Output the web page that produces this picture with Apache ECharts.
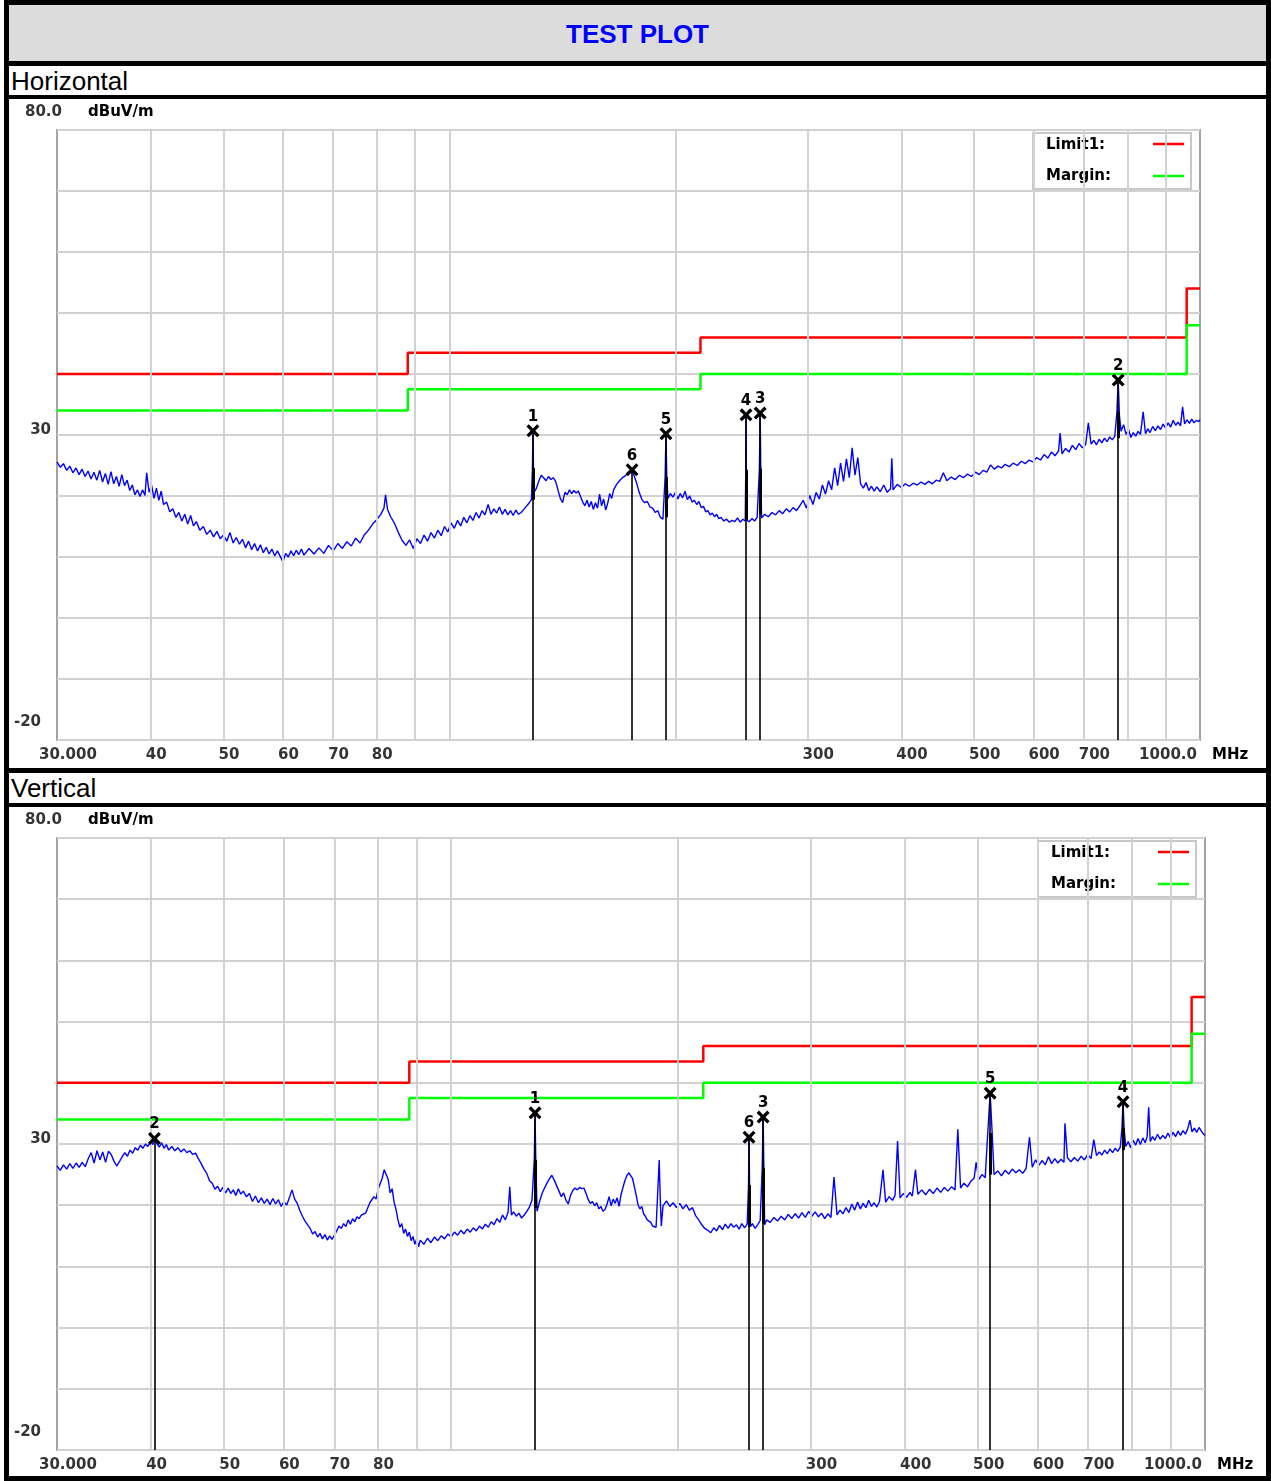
<!DOCTYPE html>
<html>
<head>
<meta charset="utf-8">
<title>TEST PLOT</title>
<script src="https://cdn.jsdelivr.net/npm/echarts/dist/echarts.min.js"></script>
<style>
body{margin:0;background:#fff;}
#page{position:relative;width:1271px;height:1481px;overflow:hidden;}
#frame{position:absolute;left:4px;top:0;width:1267px;height:1481px;background:#000;}
.cell{position:absolute;left:9px;width:1257px;background:#fff;font-family:Arial,"Liberation Sans",sans-serif;color:#000;}
#title{top:5px;height:56px;background:#dcdcdc;color:#0000ff;font-weight:bold;font-size:26px;line-height:58px;text-align:center;}
.pol{font-size:26px;line-height:31px;padding-left:2px;box-sizing:border-box;}
#chart{position:absolute;left:0;top:0;width:1271px;height:1481px;}
</style>
</head>
<body>
<div id="page">
  <div id="frame"></div>
  <div class="cell" id="title">TEST PLOT</div>
  <div class="cell pol" style="top:66px;height:29px;">Horizontal</div>
  <div class="cell" style="top:99px;height:669px;"></div>
  <div class="cell pol" style="top:773px;height:30px;">Vertical</div>
  <div class="cell" style="top:807px;height:669px;"></div>
  <div id="chart"></div>
</div>
<script>
// ---- horizontal scan (MHz / dBuV/m)
var hFreq = [30.0,30.3,30.6,30.9,31.2,31.5,31.8,32.1,32.4,32.7,33.0,33.3,33.6,33.9,34.2,34.5,34.8,35.1,35.4,35.7,
  36.0,36.3,36.6,36.9,37.2,37.5,37.8,38.1,38.4,38.7,39.0,39.3,39.5,39.8,40.1,40.4,40.7,41.0,41.3,41.6,
  42.0,42.4,42.8,43.2,43.6,44.0,44.4,44.8,45.2,45.6,46.0,46.5,47.0,47.5,48.0,48.5,49.0,49.5,50.0,50.5,
  51.0,51.5,52.0,52.5,53.0,53.5,54.0,54.5,55.0,55.5,56.0,56.5,57.0,57.5,58.0,58.5,59.0,59.5,60.0,60.5,
  61.0,61.5,62.0,62.5,63.0,63.5,64.0,65.0,66.0,67.0,68.0,69.0,70.0,71.0,72.0,73.0,74.0,75.0,76.0,77.0,
  78.0,79.0,80.0,81.0,81.8,82.2,82.7,83.5,84.5,85.5,86.5,87.5,88.5,89.5,90.5,91.5,92.5,93.5,94.5,95.5,
  96.5,97.5,98.5,99.5,100.5,101.5,102.5,103.5,104.5,105.5,106.5,107.5,108.5,109.5,110.5,111.5,112.6,113.6,114.6,115.6,
  116.6,117.6,118.6,119.6,120.6,121.6,122.6,123.6,124.6,125.6,126.6,127.6,128.6,128.9,129.0,129.2,129.4,129.5,130.5,131.5,
  132.5,133.5,134.5,135.5,136.5,137.5,138.5,139.5,140.5,141.5,142.5,143.5,144.5,145.5,146.5,147.5,148.5,149.5,150.5,151.5,
  152.5,153.5,154.5,155.5,156.5,157.5,158.5,159.5,160.5,161.5,162.5,163.5,164.5,165.5,167.0,168.5,170.0,171.5,173.0,174.3,
  175.1,176.0,177.5,179.0,180.5,182.0,183.5,185.0,186.5,188.0,189.5,191.0,192.5,193.8,194.3,194.8,195.5,197.0,198.5,200.0,
  201.5,203.0,204.5,206.0,207.5,209.0,210.5,212.0,213.5,215.0,216.5,218.0,219.5,221.0,222.5,224.0,225.5,227.0,228.5,230.0,
  232.0,234.0,236.0,238.0,240.0,242.0,244.0,246.0,247.8,248.2,248.4,248.6,249.0,251.0,253.0,255.0,257.0,258.8,259.4,259.9,
  260.5,263,266,269,272,275,278,281,284,287,290,293,296,299,302,305,308,311,314,317,
  320,323,326,329,332,335,338,341,344,347,350,353,356,359,362,365,368,371,375,379,
  383,387,388.5,390,395,400,405,410,415,420,425,430,435,440,445,450,455,460,466,472,
  478,484,490,496,502,508,514,520,526,532,538,544,550,557,564,571,578,585,592,599,
  606,613,620,627,634,641,648,651,655,662,669,676,683,690,697,704,710,716,722,728,
  734,740,746,752,758,764,770,775,778,781,785,791,797,803,809,815,821,827,833,840,
  846,852,858,865,872,879,886,893,900,907,914,921,928,935,942,948,954,961,968,975,
  982,989,996,1000];
var hLevel = [25.6,24.7,25.3,24.2,24.9,23.8,24.6,23.5,24.4,23.2,24.1,22.8,23.9,22.6,24.2,22.3,23.7,21.9,24.0,22.0,
  23.2,21.6,23.5,21.7,22.6,20.9,21.8,20.2,21.0,19.9,21.0,20.1,23.8,20.6,21.8,19.6,21.3,19.3,20.8,18.6,
  19.0,17.4,17.9,16.5,17.3,15.9,17.0,15.4,16.8,15.1,15.8,14.4,15.0,13.7,14.4,13.3,14.2,13.0,13.6,12.6,
  14.0,12.3,13.2,12.1,12.9,11.5,12.6,11.2,12.2,11.0,12.0,10.7,11.6,10.5,11.3,10.2,11.0,10.1,9.2,10.6,
  10.0,11.0,10.2,11.1,10.4,11.3,10.3,11.4,10.5,11.5,10.6,11.9,11.0,12.2,11.4,12.5,11.8,13.1,12.3,13.6,
  14.4,15.4,16.1,17.0,18.0,20.2,17.8,16.6,15.5,14.0,12.7,11.9,12.8,11.4,13.0,12.2,13.6,12.6,14.0,13.1,
  14.4,13.5,15.0,14.1,15.6,14.7,16.0,15.1,16.5,15.6,16.8,16.0,17.3,16.4,17.6,16.9,18.6,17.0,17.9,17.2,
  18.2,17.0,17.8,16.9,17.6,16.8,17.7,17.0,17.3,17.8,18.3,18.8,19.4,19.4,24.6,30.7,24.6,20.5,21.2,22.4,
  23.4,23.0,22.5,23.2,22.7,23.0,22.4,21.0,19.6,18.9,20.6,20.2,21.0,20.4,20.9,20.5,20.8,19.9,19.0,18.4,
  19.3,18.2,19.1,17.8,18.9,18.0,20.3,18.4,19.5,17.7,18.8,20.4,19.6,21.0,21.9,22.5,23.0,23.3,23.9,23.8,
  24.3,23.5,22.2,20.6,19.4,18.9,19.1,18.2,18.0,17.3,17.6,16.5,16.2,23.1,30.2,23.0,19.6,20.4,19.8,20.6,
  19.5,20.4,19.7,20.8,19.4,20.0,19.0,19.3,18.6,19.1,18.1,18.3,17.4,17.6,16.9,17.2,16.6,17.0,16.3,16.5,
  15.9,16.2,15.7,16.0,15.8,16.4,15.7,16.2,15.9,24.3,33.3,24.3,16.0,15.8,16.3,15.9,16.5,24.5,33.6,24.5,
  16.4,17.0,16.6,17.3,16.9,17.6,17.1,17.9,17.4,18.1,17.6,18.4,19.3,18.0,20.1,18.6,20.6,19.5,21.8,20.3,
  22.5,21.0,24.6,21.7,25.4,22.4,26.1,23.0,27.9,23.4,26.3,22.0,21.3,22.2,20.9,21.6,20.8,21.5,20.7,21.8,
  20.6,21.2,26.2,21.0,21.9,21.4,22.0,21.6,22.1,21.8,22.3,21.9,22.4,22.0,22.6,22.4,23.8,22.5,23.1,22.7,
  23.4,23.0,23.6,23.2,23.9,23.5,24.2,23.9,25.1,24.4,24.9,24.6,25.2,24.8,25.4,25.0,25.7,25.3,25.9,25.6,
  26.3,25.9,26.8,26.2,27.2,26.6,27.4,30.3,26.9,27.8,27.2,28.3,27.6,28.6,27.9,28.4,32.0,28.5,29.1,28.4,
  29.3,28.7,29.5,28.9,29.7,29.2,29.8,33.8,39.0,33.2,30.6,31.7,30.1,30.9,29.6,30.4,29.8,30.6,30.1,33.8,
  30.2,31.0,30.4,31.4,30.7,31.5,30.9,31.8,31.1,32.0,31.3,32.4,31.6,32.1,31.5,34.6,31.8,32.5,31.9,32.6,
  32.0,32.4,32.2,32.5];

// ---- vertical scan
var vFreq = [30.0,30.3,30.6,30.9,31.2,31.5,31.8,32.1,32.4,32.7,33.0,33.3,33.6,33.9,34.2,34.5,34.8,35.1,35.4,35.7,
  36.0,36.3,36.6,36.9,37.2,37.5,37.8,38.1,38.4,38.7,39.0,39.3,39.6,39.9,40.2,40.4,40.7,41.0,41.3,41.6,
  41.9,42.2,42.6,43.0,43.4,43.8,44.2,44.6,45.0,45.4,45.8,46.2,46.6,47.0,47.4,47.8,48.2,48.6,49.0,49.4,
  49.8,50.2,50.6,51.0,51.4,51.8,52.2,52.6,53.0,53.5,54.0,54.5,55.0,55.5,56.0,56.5,57.0,57.5,58.0,58.5,
  59.0,59.5,60.0,60.5,61.0,61.5,62.0,62.5,63.0,63.5,64.0,64.5,65.0,65.5,66.0,66.5,67.0,67.5,68.0,68.5,
  69.0,69.5,70.0,70.5,71.0,71.5,72.0,72.5,73.0,73.5,74.0,74.5,75.0,75.5,76.0,77.0,78.0,79.0,79.5,80.0,
  80.5,81.0,81.5,82.0,82.5,83.0,83.5,84.0,84.5,85.0,85.5,86.0,86.5,87.0,87.5,88.0,88.5,89.0,89.5,90.0,
  90.5,91,92,93,94,95,96,97,98,99,100,101,102,103,104,105,106,107,108,109,
  110,111,112,113,114,115,116,117,118,119,119.6,120.2,121,122,123,124,125,126,127,128,
  128.9,129.2,129.5,130,131,132,133,134,135,136,137,138,139,140,141,142,143,144,145,146,
  147,148,149,150,151,152,153,154,155,156,157,158,159,160,161,162,163,164,165,166,
  167,168,169,170,171,172,173,174,175,176,177,178,179,180,181,182,183,184,185,186,
  187,188,188.8,189.4,190,191,193,195,197,199,201,203,205,207,209,211,213,215,217,219,
  221,223,225,227,229,231,233,235,237,239,241,243,245,247,248.0,248.4,248.8,249.5,251,253,
  255,257,258.6,259.3,259.9,260.5,262,265,268,271,274,277,280,283,286,289,292,295,298,301,
  304,307,310,313,316,319,322,325,328,331,334,337,340,343,346,349,352,355,358,361,
  364,367,370,374,377,381,385,388,391,394,398,402,406,409,413,416,421,426,431,436,
  441,446,451,456,461,466,470,474,479,484,489,494,497,501,506,511,515,518.8,522,525,
  531,537,543,549,555,561,567,573,579,585,590,596,602,608,614,620,626,632,638,644,
  650,652,657,664,671,678,685,692,699,706,712,718,724,730,736,742,748,754,760,766,
  772,776,778.5,781,785,791,797,803,809,815,821,827,833,838,842,846,852,858,865,872,
  879,886,893,900,907,914,921,928,935,942,948,955,961,968,975,982,989,996,1000];
var vLevel = [26.4,25.7,26.6,25.9,26.8,26.0,26.9,26.2,27.0,26.3,27.6,28.6,26.9,28.9,27.4,28.7,27.0,28.8,28.3,27.2,
  26.4,27.1,27.9,28.6,28.0,29.0,28.5,29.4,29.0,29.8,29.3,30.0,29.6,30.3,29.9,30.9,30.1,29.5,30.2,29.3,
  29.9,29.0,29.6,28.9,29.4,28.7,29.2,28.6,28.9,28.3,28.5,27.6,26.8,25.9,25.2,24.0,23.6,22.6,23.1,22.2,
  22.9,22.0,22.8,21.9,22.5,21.6,22.7,21.8,22.3,21.4,21.9,20.6,21.5,20.4,21.2,20.3,21.0,20.1,21.1,20.2,
  20.9,19.8,20.6,20.0,21.2,22.5,21.0,20.3,19.1,18.2,17.4,16.8,16.2,15.3,15.7,14.8,15.4,14.5,15.2,14.3,
  15.0,14.4,15.1,15.8,16.6,16.2,17.0,16.5,17.6,16.9,17.8,17.3,18.1,17.8,18.4,18.7,20.4,21.4,21.0,22.6,
  23.5,24.4,25.8,25.0,24.2,22.0,22.7,20.5,19.3,17.6,16.4,17.0,15.4,16.1,14.9,15.6,14.2,14.9,13.6,14.5,
  13.2,14.3,13.6,14.6,13.9,14.8,14.2,15.0,14.5,15.3,14.8,15.6,15.1,15.9,15.3,16.1,15.6,16.3,15.8,16.6,
  16.1,16.9,16.4,17.3,16.8,17.8,17.2,18.4,17.6,18.9,23.0,18.4,18.9,18.2,18.7,17.9,18.4,19.0,19.7,20.8,
  27.4,35.1,27.4,19.0,20.6,21.9,22.8,23.6,24.3,24.9,24.1,23.2,22.3,21.4,22.0,20.8,20.2,21.6,22.4,22.8,
  22.5,22.9,22.7,22.8,21.9,20.9,20.3,20.6,19.9,20.4,19.4,19.8,19.0,19.3,20.2,21.4,19.9,21.0,20.3,21.2,
  19.8,21.7,22.9,24.0,24.8,25.3,25.1,24.4,23.0,21.6,20.0,19.4,19.8,18.6,18.2,17.6,17.9,17.2,16.6,16.9,
  16.4,16.7,27.4,21.0,16.6,19.9,20.7,19.8,20.4,19.6,20.3,19.4,20.1,19.2,19.6,18.3,17.6,16.8,16.2,15.9,
  15.5,16.3,15.8,16.7,16.0,16.9,16.2,17.0,16.4,16.8,16.1,17.0,16.3,16.9,23.3,31.1,23.3,16.5,17.0,16.2,
  16.8,17.5,26.1,34.4,26.1,16.8,17.6,17.2,18.0,17.4,18.2,17.6,18.5,17.8,18.6,17.9,18.8,18.0,19.0,18.2,
  18.9,18.1,18.7,17.8,18.6,18.0,24.6,18.4,19.2,18.6,19.6,18.8,20.2,19.2,20.5,19.4,20.3,19.6,20.8,19.8,
  20.4,19.7,20.6,25.8,20.5,21.4,20.8,21.6,30.5,21.2,21.9,21.3,22.1,21.5,25.8,21.8,22.5,21.7,22.6,21.9,
  22.8,22.1,22.9,22.3,23.0,22.5,32.4,22.8,23.6,23.0,23.9,24.4,27.0,24.2,25.0,24.5,31.8,38.3,31.8,25.0,
  25.6,24.8,25.7,25.1,25.9,25.3,25.8,25.2,26.0,31.1,26.2,27.4,26.5,27.3,26.6,27.9,26.8,27.6,26.9,27.5,
  27.0,33.4,27.7,27.1,27.8,27.2,28.0,27.4,28.3,27.6,30.7,28.1,28.7,28.2,29.0,28.4,29.2,28.6,29.3,28.8,
  29.5,32.6,36.9,32.6,29.6,30.4,29.4,30.6,29.8,30.9,29.9,31.0,30.2,31.2,36.0,30.4,31.2,30.6,31.6,30.8,
  31.4,30.9,31.8,31.0,31.9,31.2,32.1,31.4,32.2,31.6,32.4,33.9,32.0,32.6,31.9,32.7,32.1,31.6,31.4];

// limit line (stepped) and margin line
var limitFreq = [30, 88, 88, 216, 216, 960, 960, 1000];
var limitLevel = [40, 40, 43.5, 43.5, 46, 46, 54, 54];
var marginLevel = [34, 34, 37.5, 37.5, 40, 40, 48, 48];

// peak markers 1..6 (stub = dark dense part of the spike, null = none)
var markNames = ['1', '2', '3', '4', '5', '6'];
var hMarkFreq = [129.2, 778.0, 259.4, 248.4, 194.3, 175.1];
var hMarkLevel = [30.7, 39.0, 33.6, 33.3, 30.2, 24.3];
var hStubTop = [24.6, 33.8, 24.5, 24.3, 23.1, null];
var hStubBottom = [19.4, 29.5, 17.0, 16.0, 16.5, null];
var vMarkFreq = [129.2, 40.4, 259.3, 778.5, 518.8, 248.4];
var vMarkLevel = [35.1, 30.9, 34.4, 36.9, 38.3, 31.1];
var vStubTop = [27.4, null, 26.1, 32.6, 31.8, 23.3];
var vStubBottom = [19.5, null, 17.0, 29.0, 25.0, 16.5];

// axes
var gridFreq = [40, 50, 60, 70, 80, 90, 100, 200, 300, 400, 500, 600, 700, 800, 900];
var tickFreq = [30, 40, 50, 60, 70, 80, 300, 400, 500, 600, 700, 1000];
var tickText = ['30.000', '40', '50', '60', '70', '80', '300', '400', '500', '600', '700', '1000.0'];
var levelTicks = [80, 30, -20];
var levelText = ['80.0', '30', '-20'];

var FONT = '"DejaVu Sans", "Liberation Sans", sans-serif';

function zip(a, b){
  var out = [];
  for (var i = 0; i < a.length; i++) out.push([a[i], b[i]]);
  return out;
}

// plot rectangles in page pixels
var boxes = [
  {left: 57, top: 130, width: 1143, height: 610},
  {left: 57, top: 838, width: 1148, height: 612}
];

var crossPath = 'path://M0,1.8L1.8,0L5,3.2L8.2,0L10,1.8L6.8,5L10,8.2L8.2,10L5,6.8L1.8,10L0,8.2L3.2,5Z';

function panelSeries(i, freq, level, mFreq, mLevel, stubTop, stubBottom){
  var s = [];
  // vertical grid lines
  s.push({
    type: 'line', xAxisIndex: i, yAxisIndex: i, data: [[30, -20]], symbol: 'none',
    lineStyle: {opacity: 0}, silent: true, z: 1,
    markLine: {
      silent: true, symbol: ['none', 'none'], label: {show: false},
      lineStyle: {color: '#d2d2d2', width: 2, type: 'solid'},
      data: gridFreq.map(function(f){ return {xAxis: f}; })
    }
  });
  // black drop lines under the markers
  s.push({
    type: 'line', xAxisIndex: i, yAxisIndex: i, data: [[30, -20]], symbol: 'none',
    lineStyle: {opacity: 0}, silent: true, z: 2,
    markLine: {
      silent: true, symbol: ['none', 'none'], label: {show: false},
      lineStyle: {color: '#000', width: 1.6, type: 'solid'},
      data: mFreq.map(function(f, k){ return [{coord: [f, mLevel[k]]}, {coord: [f, -20]}]; })
    }
  });
  s.push({
    name: 'Limit1:', type: 'line', xAxisIndex: i, yAxisIndex: i, data: zip(limitFreq, limitLevel),
    symbol: 'none', lineStyle: {color: '#ff0000', width: 2.5}, z: 3
  });
  s.push({
    name: 'Margin:', type: 'line', xAxisIndex: i, yAxisIndex: i, data: zip(limitFreq, marginLevel),
    symbol: 'none', lineStyle: {color: '#00ff00', width: 2.5}, z: 3
  });
  s.push({
    type: 'line', xAxisIndex: i, yAxisIndex: i, data: zip(freq, level),
    symbol: 'none', lineStyle: {color: '#0000ff', width: 1.4}, z: 4
  });
  // dense dark stub of each marked spike
  var stubs = [];
  mFreq.forEach(function(f, k){
    if (stubTop[k] !== null) stubs.push([{coord: [f, stubTop[k]]}, {coord: [f, stubBottom[k]]}]);
  });
  s.push({
    type: 'line', xAxisIndex: i, yAxisIndex: i, data: [[30, -20]], symbol: 'none',
    lineStyle: {opacity: 0}, silent: true, z: 5,
    markLine: {
      silent: true, symbol: ['none', 'none'], label: {show: false},
      lineStyle: {color: '#000', width: 3, type: 'solid'},
      data: stubs
    }
  });
  s.push({
    type: 'scatter', xAxisIndex: i, yAxisIndex: i, z: 6, clip: false,
    symbol: crossPath, symbolSize: 13, itemStyle: {color: '#000', opacity: 1},
    label: {show: true, position: 'top', distance: 0, formatter: '{b}', color: '#000',
            fontFamily: FONT, fontWeight: 'bold', fontSize: 15},
    data: mFreq.map(function(f, k){ return {name: markNames[k], value: [f, mLevel[k]]}; })
  });
  // frequency tick labels under the plot
  s.push({
    type: 'scatter', xAxisIndex: i, yAxisIndex: i, z: 6, clip: false, silent: true,
    symbolSize: 0,
    label: {show: true, position: 'bottom', distance: 8, formatter: '{b}', color: '#000',
            fontFamily: FONT, fontWeight: 'bold', fontSize: 15, align: 'left', offset: [-5, 0]},
    data: tickFreq.map(function(f, k){
      var it = {name: tickText[k], value: [f, -20]};
      if (k === 0) it.label = {offset: [-18, 0]};
      if (k === tickFreq.length - 1) it.label = {align: 'right', offset: [-3, 0]};
      return it;
    })
  });
  // level labels left of the plot
  var lvOff = [[5, -18], [-6, -5], [-16, -18]];
  s.push({
    type: 'scatter', xAxisIndex: i, yAxisIndex: i, z: 6, clip: false, silent: true,
    symbolSize: 0,
    label: {show: true, position: 'left', distance: 0, formatter: '{b}', color: '#000',
            fontFamily: FONT, fontWeight: 'bold', fontSize: 15, align: 'right'},
    data: levelTicks.map(function(v, k){
      return {name: levelText[k], value: [30, v], label: {offset: lvOff[k]}};
    })
  });
  return s;
}

function legendGraphic(b){
  var x = b.left + b.width - 167, y = b.top + 3;
  var txt = {fill: '#000', font: 'bold 15px ' + FONT, textVerticalAlign: 'middle'};
  return [
    {type: 'rect', shape: {x: x, y: y, width: 158, height: 56}, style: {fill: '#fff', stroke: '#c8c8c8', lineWidth: 2}},
    {type: 'text', x: x + 13, y: y + 12, style: Object.assign({text: 'Limit1:'}, txt)},
    {type: 'text', x: x + 13, y: y + 43, style: Object.assign({text: 'Margin:'}, txt)},
    {type: 'line', shape: {x1: x + 120, y1: y + 11, x2: x + 151, y2: y + 11}, style: {stroke: '#ff0000', lineWidth: 2.5}},
    {type: 'line', shape: {x1: x + 120, y1: y + 43, x2: x + 151, y2: y + 43}, style: {stroke: '#00ff00', lineWidth: 2.5}},
    {type: 'text', x: b.left + 31, y: b.top - 18, style: Object.assign({text: 'dBuV/m'}, txt)},
    {type: 'text', x: b.left + b.width + 12, y: b.top + b.height + 15, style: Object.assign({text: 'MHz'}, txt)}
  ];
}

function charts(){
  var myChart = echarts.init(document.getElementById('chart'), null, {renderer: 'canvas'});
  var grids = [], xAxes = [], yAxes = [];
  boxes.forEach(function(b, i){
    grids.push({left: b.left, top: b.top, width: b.width, height: b.height, show: true,
                borderColor: '#a3a3a3', borderWidth: 2, backgroundColor: 'transparent'});
    xAxes.push({type: 'log', logBase: 10, min: 30, max: 1000, gridIndex: i,
                axisLine: {show: false}, axisTick: {show: false}, axisLabel: {show: false},
                splitLine: {show: false}, minorSplitLine: {show: false}});
    yAxes.push({type: 'value', min: -20, max: 80, interval: 10, gridIndex: i,
                axisLine: {show: false}, axisTick: {show: false}, axisLabel: {show: false},
                splitLine: {show: true, lineStyle: {color: '#d2d2d2', width: 2}}});
  });
  var series = panelSeries(0, hFreq, hLevel, hMarkFreq, hMarkLevel, hStubTop, hStubBottom)
    .concat(panelSeries(1, vFreq, vLevel, vMarkFreq, vMarkLevel, vStubTop, vStubBottom));
  myChart.setOption({
    backgroundColor: 'transparent',
    animation: false,
    grid: grids,
    xAxis: xAxes,
    yAxis: yAxes,
    series: series,
    graphic: legendGraphic(boxes[0]).concat(legendGraphic(boxes[1]))
  });
}

charts();
</script>
</body>
</html>
